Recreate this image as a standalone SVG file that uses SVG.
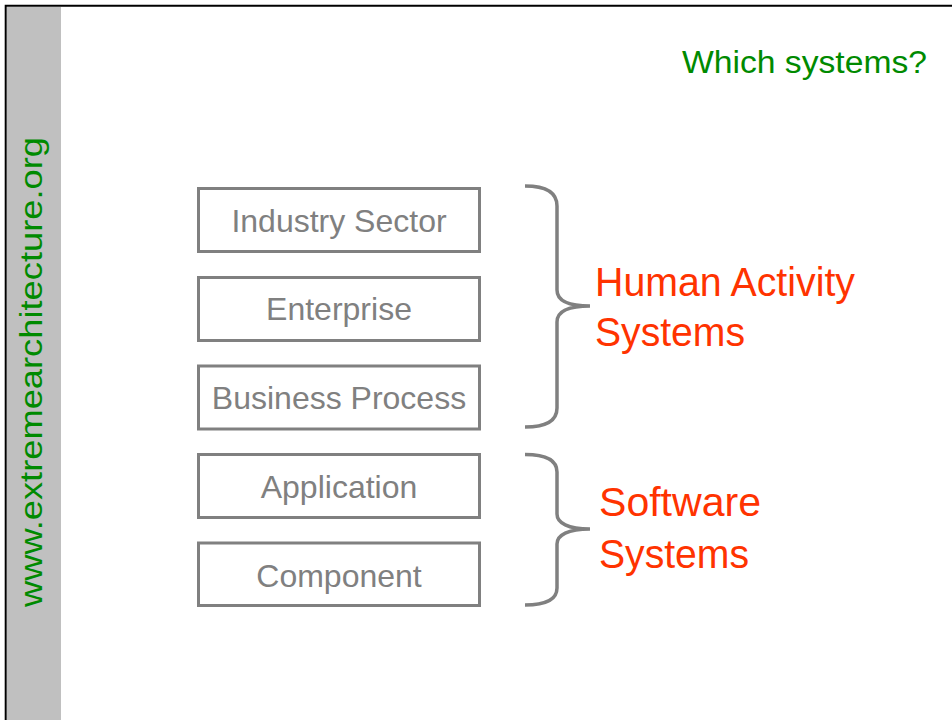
<svg xmlns="http://www.w3.org/2000/svg" width="952" height="720" viewBox="0 0 952 720">
<style>
.box{fill:#ffffff;stroke:#808080;stroke-width:3}
.lbl{font-family:"Liberation Sans",Arial,sans-serif;font-size:32px;fill:#808080;text-anchor:middle}
.brace{fill:none;stroke:#808080;stroke-width:3.5}
.red{font-family:"Liberation Sans",Arial,sans-serif;font-size:40px;fill:#ff3300}
.green{font-family:"Liberation Sans",Arial,sans-serif;fill:#008a00}
</style>
<rect x="0" y="0" width="952" height="720" fill="#ffffff"/>
<g id="frame">
<rect x="7" y="7" width="54" height="713" fill="#c0c0c0"/>
<path d="M5.7,720 L5.7,5.7 L952,5.7" fill="none" stroke="#000000" stroke-width="2"/>
</g>
<g id="site">
<text class="green" font-size="32" transform="translate(42,607) rotate(-90)" textLength="470" lengthAdjust="spacingAndGlyphs">www.extremearchitecture.org</text>
</g>
<g id="title">
<text class="green" x="682" y="73" font-size="31" textLength="245" lengthAdjust="spacingAndGlyphs">Which systems?</text>
</g>
<g id="industry-sector">
<rect class="box" x="198.5" y="188.5" width="281" height="63"/>
<text class="lbl" x="339" y="232">Industry Sector</text>
</g>
<g id="enterprise">
<rect class="box" x="198.5" y="277.5" width="281" height="63"/>
<text class="lbl" x="339" y="320">Enterprise</text>
</g>
<g id="business-process">
<rect class="box" x="198.5" y="366" width="281" height="63"/>
<text class="lbl" x="339" y="409">Business Process</text>
</g>
<g id="application">
<rect class="box" x="198.5" y="454.5" width="281" height="63"/>
<text class="lbl" x="339" y="498">Application</text>
</g>
<g id="component">
<rect class="box" x="198.5" y="543" width="281" height="62.5"/>
<text class="lbl" x="339" y="587">Component</text>
</g>
<g id="connectors">
<path class="brace" d="M525,186 C546,186 557,192 557,206 L557,290 C557,300 568,306 590,306 C568,306 557,312 557,322 L557,408 C557,421 546,427 525,427"/>
<path class="brace" d="M525,454.5 C546,454.5 557,460 557,472 L557,514 C557,523 568,529 590,529 C568,529 557,535 557,544 L557,588 C557,599 546,605 525,605"/>
</g>
<g id="human-activity-systems">
<text class="red" x="595" y="296" textLength="260" lengthAdjust="spacingAndGlyphs">Human Activity</text>
<text class="red" x="595" y="346" textLength="150" lengthAdjust="spacingAndGlyphs">Systems</text>
</g>
<g id="software-systems">
<text class="red" x="599" y="516" textLength="162" lengthAdjust="spacingAndGlyphs">Software</text>
<text class="red" x="599" y="568" textLength="150" lengthAdjust="spacingAndGlyphs">Systems</text>
</g>
</svg>
